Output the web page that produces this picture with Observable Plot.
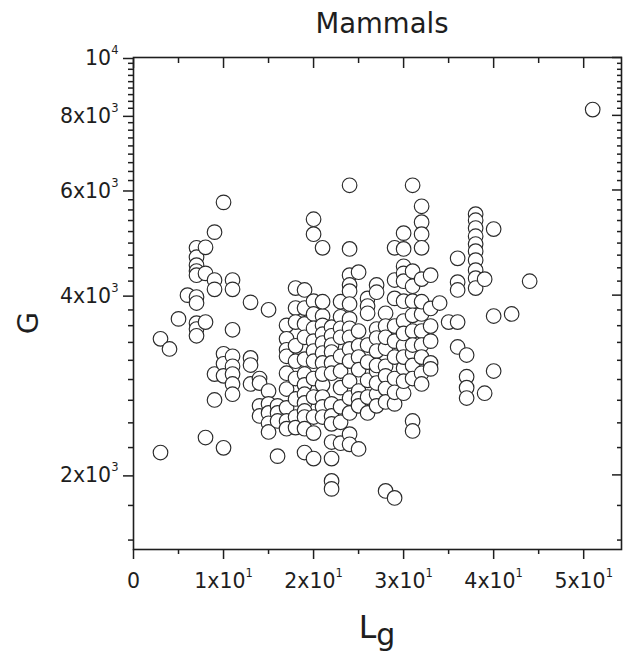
<!DOCTYPE html>
<html>
<head>
<meta charset="utf-8">
<script src="https://cdn.jsdelivr.net/npm/d3@7"></script>
<script src="https://cdn.jsdelivr.net/npm/@observablehq/plot@0.6"></script>
<style>
  html, body { margin: 0; padding: 0; background: #ffffff; }
  #chart svg { display: block; }
</style>
</head>
<body>
<div id="chart"></div>
<script>
// ---------- data ----------
const titleText = "Mammals";
const yLabelText = "G";
const xLabelMain = "L";
const xLabelSub = "g";

// Lg columns (integer Lg values) and the G values found in each column
const lgColumns = [3, 4, 5, 6, 7, 8, 9, 10, 11, 13, 14, 15, 16, 17, 18, 19, 20, 21, 22, 23, 24, 25, 26, 27, 28, 29, 30, 31, 32, 33, 34, 35, 36, 37, 38, 39, 40, 42, 44, 51];
const gByColumn = [
  [3380, 2180],
  [3250],
  [3650],
  [4000],
  [4800, 4630, 4490, 4390, 4320, 3970, 3880, 3590, 3510, 3420],
  [4810, 4350, 3605, 2310],
  [5100, 4240, 4090, 2950, 2670],
  [5720, 3190, 3070, 2930, 2220],
  [4240, 4090, 3500, 3160, 3040, 2950, 2840, 2730],
  [3890, 3140, 3055, 2840],
  [2900, 2850, 2610, 2510],
  [3780, 2763, 2630, 2540, 2440, 2360],
  [2610, 2540, 2462, 2150],
  [3560, 3380, 3240, 3160, 2960, 2785, 2590, 2462, 2390],
  [4110, 3805, 3605, 3290, 2680, 3100, 2900, 2500, 2400],
  [4080, 3805, 3580, 3400, 3125, 2950, 2830, 2730, 2640, 2559, 2500, 2390, 2180],
  [5360, 5060, 3908, 3720, 3520, 3350, 3224, 2130, 3100, 2900, 2700, 2500, 2350],
  [4800, 3690, 3560, 3440, 3325, 3200, 3080, 2830, 2700, 3900, 2950, 2600, 2500],
  [3535, 3420, 3300, 3212, 3080, 2960, 2630, 2510, 2435, 2270, 2130, 1954, 1895],
  [3680, 3520, 3160, 2985, 2260, 3900, 3400, 2800, 2600, 2450],
  [6110, 4780, 4320, 4160, 4062, 3865, 3650, 3520, 3400, 3250, 3102, 2872, 2690, 2540, 2340, 2250],
  [4370, 3482, 3290, 2763, 2680, 2610, 2210, 3150, 3000],
  [3950, 3835, 3730, 3090, 2540, 3300, 2880, 2700],
  [4160, 4045, 3510, 3390, 3224, 2985, 2730, 2610, 3050, 2850],
  [3730, 3550, 3260, 3040, 1880, 3400, 2930, 2790, 2650],
  [4800, 4240, 3950, 3550, 2630, 1830, 3350, 3150, 2900, 2750],
  [5080, 4780, 4470, 4350, 4221, 3908, 3619, 3290, 3020, 2740, 3450, 3150, 2870],
  [6110, 4387, 4140, 3908, 3482, 3200, 2462, 2369, 3700, 3300, 3050, 2900],
  [5635, 5300, 5060, 4800, 4255, 3720, 3482, 2960, 2840, 3900, 3300, 3150],
  [4320, 3550, 3080, 3010, 3800, 3350],
  [3880],
  [3605],
  [4610, 4205, 4080, 3605, 3275],
  [3175, 2920, 2800, 2690],
  [5466, 5340, 5180, 5020, 4870, 4739, 4577, 4404, 4271, 4110],
  [4254, 2740],
  [5160, 3690, 2985],
  [3720],
  [4220],
  [8180]
];

// axes: tick values and labels
const xTickValues = [0, 10, 20, 30, 40, 50];
const xTickLabels = ["0", "1x10^1", "2x10^1", "3x10^1", "4x10^1", "5x10^1"];
const xMinorValues = [5, 15, 25, 35, 45];
const yTickValues = [2000, 4000, 6000, 8000, 10000];
const yTickLabels = ["2x10^3", "4x10^3", "6x10^3", "8x10^3", "10^4"];
const xDomain = [0, 54.2];
const yDomain = [1500, 10000];

// ---------- build ----------
const points = lgColumns.flatMap((lg, i) => gByColumn[i].map(g => ({lg, g})));

// Origin-style minor ticks: 8 minor ticks between consecutive major ticks
const yMinorValues = [];
for (let m = 0; m < 10000; m += 2000) {
  for (let k = 1; k <= 8; k++) {
    const v = m + k * 2000 / 9;
    if (v >= yDomain[0] && v <= yDomain[1]) yMinorValues.push(v);
  }
}

const FONT = "'DejaVu Sans', 'Liberation Sans', Arial, sans-serif";
const INK = "#1e1e1e";
const blank = () => "";

const chart = Plot.plot({
  width: 627,
  height: 659,
  marginLeft: 133,
  marginRight: 6,
  marginTop: 57,
  marginBottom: 110,
  style: {fontFamily: FONT, background: "#ffffff", color: INK},
  x: {type: "linear", domain: xDomain},
  y: {type: "log", domain: yDomain},
  marks: [
    Plot.dot(points, {x: "lg", y: "g", r: 7.3, fill: "white", stroke: "#2a2a2a", strokeWidth: 1.15}),
    Plot.frame({stroke: INK, strokeWidth: 1.6}),
    // bottom axis
    Plot.axisX({anchor: "bottom", ticks: xTickValues, tickSize: 10, tickPadding: 14,
      tickFormat: d => xTickLabels[xTickValues.indexOf(d)], fontSize: 20.5, label: null,
      stroke: INK, strokeWidth: 1.5, fill: INK}),
    Plot.axisX({anchor: "bottom", ticks: xMinorValues, tickSize: 5, tickFormat: blank, label: null,
      stroke: INK, strokeWidth: 1.5}),
    // top axis (inward ticks)
    Plot.axisX({anchor: "top", ticks: xTickValues, tickSize: -10, tickFormat: blank, label: null,
      stroke: INK, strokeWidth: 1.5}),
    Plot.axisX({anchor: "top", ticks: xMinorValues, tickSize: -5, tickFormat: blank, label: null,
      stroke: INK, strokeWidth: 1.5}),
    // left axis
    Plot.axisY({anchor: "left", ticks: yTickValues, tickSize: 10, tickPadding: 5,
      tickFormat: d => yTickLabels[yTickValues.indexOf(d)], fontSize: 20.5, label: null,
      stroke: INK, strokeWidth: 1.5, fill: INK, dy: 1}),
    Plot.axisY({anchor: "left", ticks: yMinorValues, tickSize: 5, tickFormat: blank, label: null,
      stroke: INK, strokeWidth: 1.5}),
    // right axis (inward ticks)
    Plot.axisY({anchor: "right", ticks: yTickValues, tickSize: -10, tickFormat: blank, label: null,
      stroke: INK, strokeWidth: 1.5}),
    Plot.axisY({anchor: "right", ticks: yMinorValues, tickSize: -5, tickFormat: blank, label: null,
      stroke: INK, strokeWidth: 1.5})
  ]
});

// superscripts in tick labels ("a^b" -> a with raised b)
const svgNS = "http://www.w3.org/2000/svg";
chart.querySelectorAll("text").forEach(t => {
  const s = t.textContent;
  const i = s.indexOf("^");
  if (i < 0) return;
  t.textContent = s.slice(0, i);
  const sup = document.createElementNS(svgNS, "tspan");
  sup.setAttribute("font-size", "11.5");
  sup.setAttribute("dy", "-11");
  sup.textContent = s.slice(i + 1);
  t.appendChild(sup);
});

// title and axis labels
const svg = d3.select(chart);
svg.append("text")
  .attr("x", 382).attr("y", 33)
  .attr("text-anchor", "middle")
  .attr("font-family", FONT).attr("font-size", 27.5).attr("fill", INK)
  .text(titleText);

svg.append("text")
  .attr("transform", "translate(37.5,323) rotate(-90)")
  .attr("text-anchor", "middle")
  .attr("font-family", FONT).attr("font-size", 29).attr("fill", INK)
  .text(yLabelText);

const xl = svg.append("text")
  .attr("x", 377).attr("y", 638)
  .attr("text-anchor", "middle")
  .attr("font-family", FONT).attr("font-size", 31.5).attr("fill", INK);
xl.append("tspan").text(xLabelMain);
xl.append("tspan").attr("dy", 7).attr("font-size", 30).text(xLabelSub);

document.getElementById("chart").appendChild(chart);
</script>
</body>
</html>
